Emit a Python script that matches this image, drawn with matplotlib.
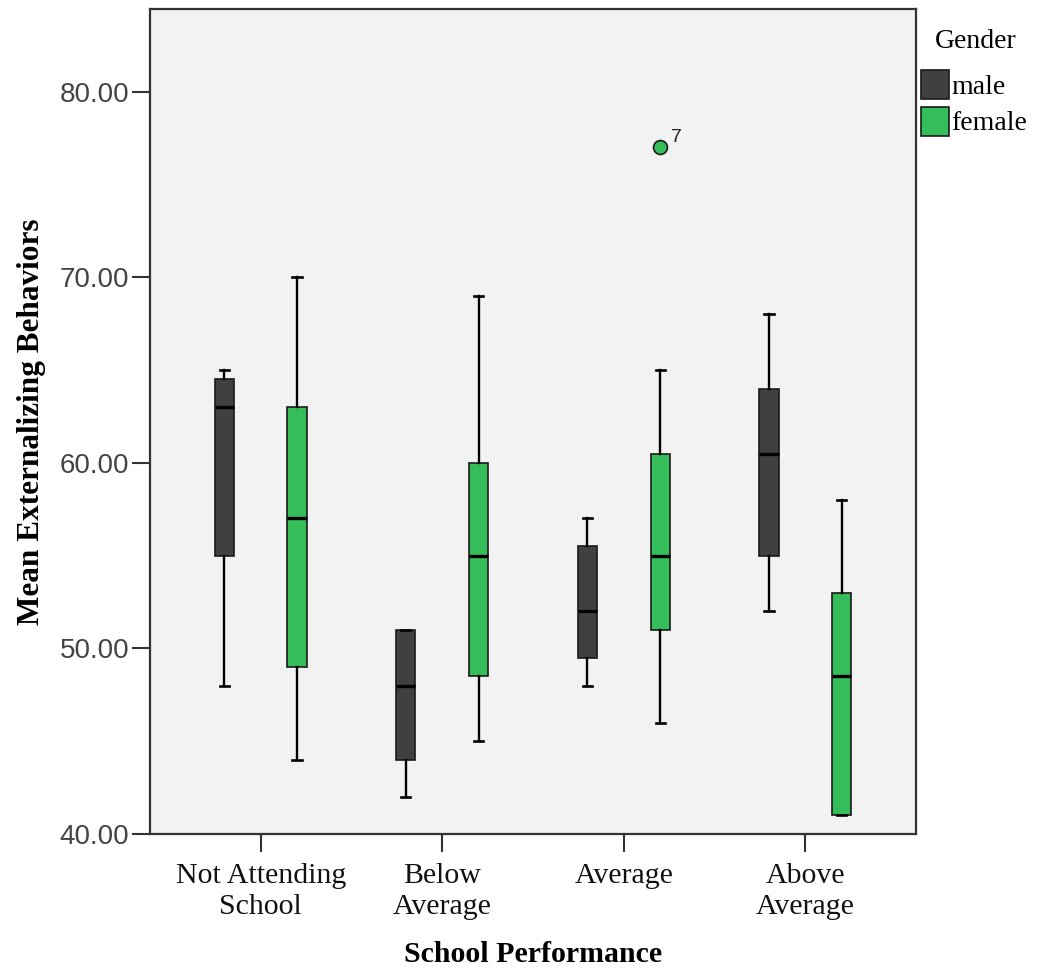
import matplotlib.pyplot as plt
from matplotlib.patches import Rectangle

# School performance categories and gender groups
categories = ["Not Attending\nSchool", "Below\nAverage", "Average", "Above\nAverage"]
genders = ["male", "female"]
box_colors = ["#404040", "#34BD59"]

# lower whisker, Q1, median, Q3, upper whisker per category
male_summary = [
    [48, 55, 63, 64.5, 65],
    [42, 44, 48, 51, 51],
    [48, 49.5, 52, 55.5, 57],
    [52, 55, 60.5, 64, 68],
]
female_summary = [
    [44, 49, 57, 63, 70],
    [45, 48.5, 55, 60, 69],
    [46, 51, 55, 60.5, 65],
    [41, 41, 48.5, 53, 58],
]
male_outliers = [[], [], [], []]
female_outliers = [[], [], [77], []]
female_outlier_ids = [[], [], ["7"], []]

y_ticks = [40, 50, 60, 70, 80]


def to_stats(summary, outliers):
    stats = []
    for (lo, q1, med, q3, hi), fl in zip(summary, outliers):
        stats.append({"whislo": lo, "q1": q1, "med": med, "q3": q3,
                      "whishi": hi, "fliers": fl})
    return stats


W, H = 1037, 975
fig = plt.figure(figsize=(W / 100, H / 100), dpi=100)
ax = fig.add_axes([150 / W, 1 - 834 / H, (916 - 150) / W, (834 - 9) / H])
ax.set_facecolor("#F2F2F2")

offsets = [-0.2, 0.2]
groups = [(male_summary, male_outliers), (female_summary, female_outliers)]
for (summary, outliers), off, col in zip(groups, offsets, box_colors):
    pos = [i + off for i in range(len(categories))]
    ax.bxp(to_stats(summary, outliers), positions=pos, widths=0.105,
           patch_artist=True, capwidths=0.05, manage_ticks=False,
           boxprops=dict(facecolor=col, edgecolor="#1a1a1a", linewidth=1.2),
           medianprops=dict(color="black", linewidth=2.4),
           whiskerprops=dict(color="black", linewidth=1.7),
           capprops=dict(color="black", linewidth=1.9),
           flierprops=dict(marker="o", markersize=10, markerfacecolor=col,
                           markeredgecolor="#1a1a1a", markeredgewidth=1.2))

# case numbers next to outliers
for i, (vals, ids) in enumerate(zip(female_outliers, female_outlier_ids)):
    for v, label in zip(vals, ids):
        ax.annotate(label, (i + offsets[1], v), xytext=(8, 4),
                    textcoords="offset points", fontsize=14,
                    family="Liberation Sans", color="#222222")

ax.set_xlim(-0.61, 3.61)
ax.set_ylim(40, 84.45)
ax.set_yticks(y_ticks)
ax.set_yticklabels([f"{v:.2f}" for v in y_ticks], family="Liberation Sans",
                   fontsize=20, color="#444444")
ax.set_xticks(range(len(categories)))
ax.set_xticklabels(categories, family="Liberation Serif", fontsize=21.5,
                   color="#111111", linespacing=1.25)
ax.tick_params(axis="both", direction="out", length=13, width=1.5,
               color="#333333", pad=2)
ax.tick_params(axis="x", pad=8)

for side in ["left", "right", "top", "bottom"]:
    ax.spines[side].set_color("#333333")
    ax.spines[side].set_linewidth(1.6)

ax.set_xlabel("School Performance", family="Liberation Serif",
              fontweight="bold", fontsize=21.5, labelpad=15)
ax.set_ylabel("Mean Externalizing Behaviors", family="Liberation Serif",
              fontweight="bold", fontsize=22.5, labelpad=10)

# legend drawn beside the plot area
fig.text(976 / W, 1 - 41 / H, "Gender", family="Liberation Serif",
         fontsize=20, ha="center", va="center")
for k, (name, col) in enumerate(zip(genders, box_colors)):
    top = 70 + k * 37
    fig.add_artist(Rectangle((921 / W, 1 - (top + 29) / H), 28 / W, 29 / H,
                             transform=fig.transFigure, facecolor=col,
                             edgecolor="#1a1a1a", linewidth=1.2))
    fig.text(951 / W, 1 - (top + 17) / H, name, family="Liberation Serif",
             fontsize=20, ha="left", va="center")

fig.savefig("out.png", dpi=100)
